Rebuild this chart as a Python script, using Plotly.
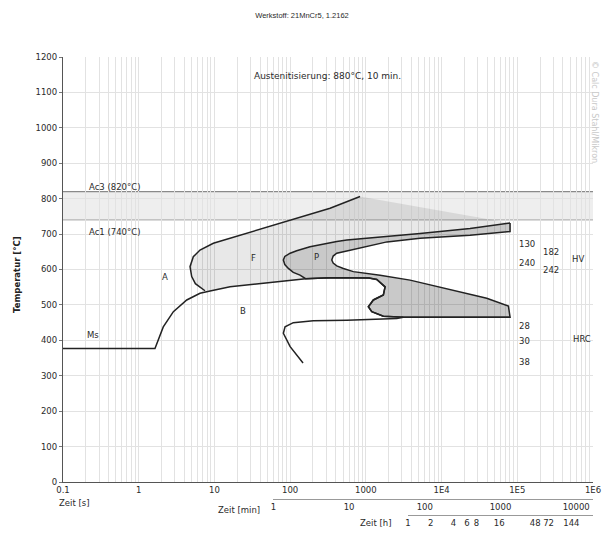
import math
import plotly.graph_objects as go

# ---------------- data (time in s, temperature in °C) ----------------
AC3 = 820
AC1 = 740

# Ms line rising into bainite-start line (up to where pearlite joins)
ms_t = [0.1, 1.64, 2.11, 2.87, 4.31, 6.45, 8.75, 16.1, 44.3, 122, 160]
ms_T = [377, 377, 438, 481, 514, 533, 539, 551, 561, 570, 574]

# bainite-start continuation incl. bulge and horizontal end
bs_t = [160, 337, 700, 1100, 1393, 1794, 1703, 1256, 1079, 1197, 1703, 3127, 80300]
bs_T = [574, 577, 577, 576, 572, 551, 528, 514, 495, 481, 468, 465, 465]

# ferrite start curve
f_t = [7.5, 5.6, 5.01, 4.76, 5.26, 6.45, 9.67, 16.1, 44.3, 122, 337, 838]
f_T = [540, 560, 580, 608, 636, 655, 674, 688, 716, 745, 773, 806]

# pearlite outer boundary (from right top around nose to bainite line)
p_out_t = [80300, 23800, 5200, 1540, 1137, 560, 413, 225, 183, 122, 100, 85, 81.3, 85, 94.7, 110, 135]
p_out_T = [731, 716, 702, 692, 689, 683, 679, 669, 664, 653, 646, 637, 627, 614, 603, 592, 584]

# pearlite inner boundary / bainite region upper line (from right bottom around nose to right top)
p_in_t = [76300, 39500, 14300, 3837, 1540, 927, 684, 505, 413, 370, 355, 370, 413, 560, 900, 1900, 5200, 23800, 80300]
p_in_T = [497, 519, 542, 570, 584, 589, 594, 603, 610, 618, 627, 638, 646, 652, 662, 678, 688, 697, 707]

# lower bainite curve
b_end_t = [148, 100, 81.3, 85.7, 110, 202, 560, 1540, 2560, 3127]
b_end_T = [336, 382, 420, 438, 450, 455, 457, 459, 462, 465]

# tick labels
sec_ticks = [0.1, 1, 10, 100, 1000, 1e4, 1e5, 1e6]
sec_text = ["0.1", "1", "10", "100", "1000", "1E4", "1E5", "1E6"]
min_ticks = [1, 10, 100, 1000, 10000]
hour_ticks = [1, 2, 4, 6, 8, 16, 48, 72, 144]
temp_ticks = list(range(0, 1201, 100))

# hardness labels
hv_col1 = ["130", "240"]
hv_col1_T = [672, 618]
hv_col2 = ["182", "242"]
hv_col2_T = [649, 599]
hrc_col = ["28", "30", "38"]
hrc_col_T = [440, 397, 338]

# ---------------- figure ----------------
FONT = "DejaVu Sans, Verdana, sans-serif"
FS = 8.5
TXT = "#2a2a2a"
W, H = 604, 535
ML, MR, MT, MB = 63, 11, 57, 5
PH = H - MT - MB
y_bottom_px = 482
ydom0 = (H - MB - y_bottom_px) / PH

fig = go.Figure()

# minor/major vertical grid values
grid_vals = []
grid_text = []
for d in range(-1, 6):
    for m in range(1, 10):
        v = m * 10 ** d
        grid_vals.append(v)
        grid_text.append(sec_text[d + 1] if m == 1 else "")
grid_vals.append(1e6)
grid_text.append("1E6")

# ferrite region fill
ms_back = [(t, T) for t, T in zip(ms_t, ms_T) if t >= f_t[0]][::-1]
fx = f_t + p_out_t + [p[0] for p in ms_back]
fy = f_T + p_out_T + [p[1] for p in ms_back]
fig.add_trace(go.Scatter(x=fx, y=fy, mode="lines", fill="toself",
                         fillcolor="rgba(0,0,0,0.09)", line=dict(width=0),
                         hoverinfo="skip", showlegend=False))

# pearlite + bainite grey region
gx = p_out_t + bs_t + p_in_t + [p_out_t[0]]
gy = p_out_T + bs_T + p_in_T + [p_out_T[0]]
fig.add_trace(go.Scatter(x=gx, y=gy, mode="lines", fill="toself",
                         fillcolor="rgba(0,0,0,0.21)",
                         line=dict(color="#222222", width=1.5),
                         hoverinfo="skip", showlegend=False))

# lines
line_style = dict(color="#222222", width=1.5)
fig.add_trace(go.Scatter(x=f_t, y=f_T, mode="lines", line=line_style,
                         hoverinfo="skip", showlegend=False))
fig.add_trace(go.Scatter(x=ms_t + bs_t[1:], y=ms_T + bs_T[1:], mode="lines",
                         line=line_style, hoverinfo="skip", showlegend=False))
fig.add_trace(go.Scatter(x=b_end_t, y=b_end_T, mode="lines", line=line_style,
                         hoverinfo="skip", showlegend=False))

# dummy traces to carry the minute / hour axes
fig.add_trace(go.Scatter(x=min_ticks, y=[None] * len(min_ticks), xaxis="x2", yaxis="y2",
                         mode="markers", hoverinfo="skip", showlegend=False))
fig.add_trace(go.Scatter(x=hour_ticks, y=[None] * len(hour_ticks), xaxis="x3", yaxis="y2",
                         mode="markers", hoverinfo="skip", showlegend=False))

# Ac band and lines
fig.add_shape(type="rect", xref="paper", yref="y", x0=0, x1=1, y0=AC1, y1=AC3,
              fillcolor="#eeeeee", line=dict(width=0), layer="below")
fig.add_shape(type="line", xref="paper", yref="y", x0=0, x1=1, y0=AC3, y1=AC3,
              line=dict(color="#8a8a8a", width=1.3), layer="below")
fig.add_shape(type="line", xref="paper", yref="y", x0=0, x1=1, y0=AC1, y1=AC1,
              line=dict(color="#b5b5b5", width=1.2), layer="below")

ann = []
def a(x, y, text, xref="x", yref="y", xanchor="center", angle=0, color=TXT, size=FS,
      family=FONT):
    if xref == "x":
        x = math.log10(x)  # log axis: annotation positions are log10 values
    ann.append(dict(x=x, y=y, xref=xref, yref=yref, text=text, showarrow=False,
                    xanchor=xanchor, yanchor="middle", textangle=angle,
                    font=dict(family=family, size=size, color=color)))

a(0.208, AC3 + 14, f"Ac3 ({AC3}°C)", xanchor="left")
a(0.208, AC1 - 33, f"Ac1 ({AC1}°C)", xanchor="left")
a(0.249, 415, "Ms")
a(2.22, 579, "A")
a(32.4, 632, "F")
a(226, 635, "P")
a(23.9, 483, "B")
for txt, T in zip(hv_col1, hv_col1_T):
    a(1.0e5, T, txt, xanchor="left")
for txt, T in zip(hv_col2, hv_col2_T):
    a(2.06e5, T, txt, xanchor="left")
a(6.4e5, 629, "HV")
for txt, T in zip(hrc_col, hrc_col_T):
    a(1.0e5, T, txt, xanchor="left")
a(7.2e5, 403, "HRC")

def px(xp):
    return (xp - ML) / (W - ML - MR)
def py(yp):
    return (H - MB - yp) / PH

a(px(327), py(76), "Austenitisierung: 880°C, 10 min.", xref="paper", yref="paper", size=9)
a(px(57), py(503), "Zeit [s]", xref="paper", yref="paper", xanchor="left")
a(px(262), py(510), "Zeit [min]", xref="paper", yref="paper", xanchor="right")
a(px(393), py(523), "Zeit [h]", xref="paper", yref="paper", xanchor="right")
a(px(17), py(275), "<b>Temperatur [°C]</b>", xref="paper", yref="paper", angle=-90,
  color="#222", size=8.5)
a(px(595), py(112), "© Calc Dura Stahl/Mikron", xref="paper", yref="paper", angle=90,
  color="#c8c8c8", size=8)

min_lo = (math.log10(60) + 1) / 7
hr_lo = (math.log10(3600) + 1) / 7

tickfont = dict(family=FONT, size=FS, color=TXT)
fig.update_layout(
    width=W, height=H,
    margin=dict(l=ML, r=MR, t=MT, b=MB, autoexpand=False),
    paper_bgcolor="white", plot_bgcolor="rgba(0,0,0,0)",
    font=dict(family=FONT, size=FS, color=TXT),
    title=dict(text="Werkstoff: 21MnCr5, 1.2162", x=0.5, xanchor="center",
               y=1 - 15 / H, yanchor="middle",
               font=dict(family="Liberation Sans, Arial, sans-serif", size=7.5, color=TXT)),
    annotations=ann,
    xaxis=dict(type="log", range=[-1, 6], domain=[0, 1], automargin=False,
               tickmode="array", tickvals=grid_vals, ticktext=grid_text,
               ticks="", showgrid=True, gridcolor="#e2e2e2", gridwidth=1,
               showline=True, linecolor="#555555", linewidth=1.3,
               zeroline=False, tickfont=tickfont, anchor="y"),
    yaxis=dict(range=[0, 1200], domain=[ydom0, 1], tickvals=temp_ticks, automargin=False,
               ticks="outside", ticklen=3, tickcolor="#777777",
               showgrid=True, gridcolor="#e2e2e2", showline=True,
               linecolor="#555555", linewidth=1.3, zeroline=False,
               tickfont=tickfont, anchor="x"),
    xaxis2=dict(type="log", domain=[min_lo, 1], range=[0, math.log10(1e6 / 60)],
                anchor="free", position=py(499), tickvals=min_ticks, automargin=False,
                ticktext=[str(v) for v in min_ticks], ticks="", showgrid=False,
                showline=True, linecolor="#999999", linewidth=1, zeroline=False,
                tickfont=tickfont),
    xaxis3=dict(type="log", domain=[hr_lo, 1], range=[0, math.log10(1e6 / 3600)],
                anchor="free", position=py(515), tickvals=hour_ticks, automargin=False,
                ticktext=[str(v) for v in hour_ticks], ticks="", showgrid=False,
                showline=True, linecolor="#999999", linewidth=1, zeroline=False,
                tickfont=tickfont),
    yaxis2=dict(domain=[ydom0, 1], range=[0, 1], visible=False, anchor="x2",
                automargin=False),
)

fig.write_html("out.html",
               config={"displayModeBar": False},
               post_script="document.body.style.margin='0';"
                           "document.documentElement.style.overflow='hidden';")
